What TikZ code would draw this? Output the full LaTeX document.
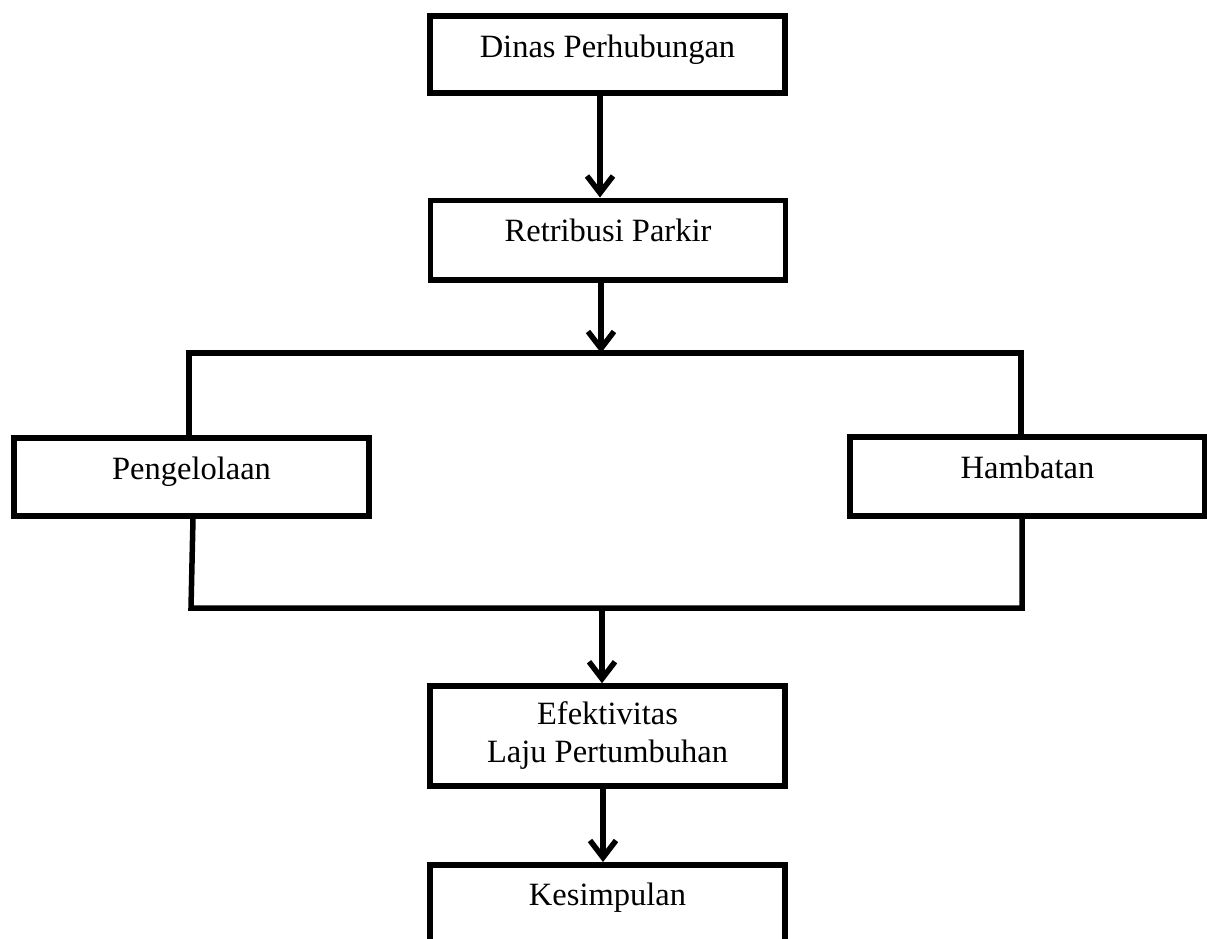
\documentclass[tikz,border=0pt]{standalone}
\usepackage{fontspec}
\setmainfont{Liberation Serif}
\usetikzlibrary{arrows.meta}
\tikzset{
  box/.style={draw, line width=5.5pt, rectangle, anchor=north, minimum width=355pt,
    inner xsep=0pt, inner ysep=0pt, font=\fontsize{32.5}{38}\selectfont},
  link/.style={line width=5.5pt},
  arr/.style={line width=5.5pt, -{Straight Barb[length=17pt,width=26pt]}}
}
\begin{document}
\begin{tikzpicture}[x=1pt,y=-1pt]
\clip (0,0) rectangle (1207,938);
\useasboundingbox (0,0) rectangle (1207,938);
\fill[white] (0,0) rectangle (1207,938);

\node[box, text height=42pt, text depth=35pt] (d) at (607.5,13) {Dinas Perhubungan};
\node[box, text height=41.5pt, text depth=38pt] (r) at (608,197.5) {Retribusi Parkir};
\node[box, text height=42pt, text depth=36pt] (p) at (191.5,435) {Pengelolaan};
\node[box, text height=42pt, text depth=37pt] (h) at (1027.5,434) {Hambatan};
\node[box, anchor=center, minimum height=100pt, align=center] (e) at (607.5,736) {Efektivitas\\Laju Pertumbuhan};
\node[box, text height=41pt, text depth=70pt] (k) at (607.5,862) {Kesimpulan};

\coordinate (a1) at (600,0);
\coordinate (tm) at (601,353);
\coordinate (tl) at (189,353);
\coordinate (tr) at (1021,353);
\coordinate (bl) at (191,608);
\coordinate (br) at (1022,608);
\coordinate (bm) at (602,608);
\coordinate (a4) at (603,0);

\draw[arr] (d.south -| a1) -- (r.north -| a1);
\draw[arr] (r.south -| tm) -- (tm);
\draw[link] (p.north -| tl) -- (tl) -- (tr) -- (h.north -| tr);
\draw[link] ([xshift=1.5pt]p.south) -- (bl) -- (br) -- (h.south -| br);
\draw[arr] (bm) -- (e.north -| bm);
\draw[arr] (e.south -| a4) -- (k.north -| a4);
\end{tikzpicture}
\end{document}
